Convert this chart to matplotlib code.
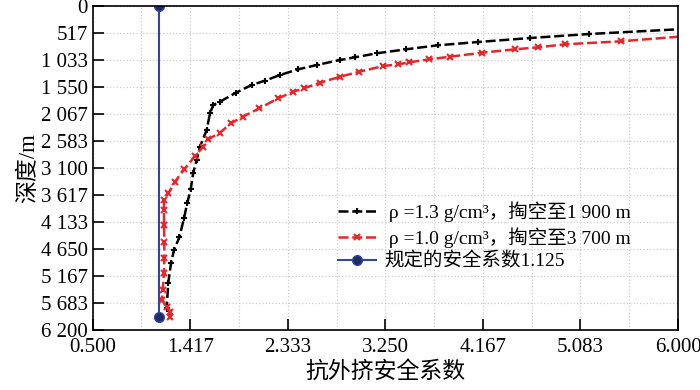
import matplotlib
matplotlib.use("Agg")
import matplotlib.pyplot as plt
import numpy as np

plt.rcParams['font.family'] = ['Liberation Serif', 'Noto Sans CJK SC', 'DejaVu Sans']

# rho = 1.3 g/cm3, hollowed to 1900 m
black_x = [1.22, 1.196, 1.21, 1.236, 1.264, 1.314, 1.358, 1.389, 1.421, 1.445, 1.477,
           1.508, 1.571, 1.602, 1.633, 1.695, 1.847, 1.994, 2.119, 2.260, 2.432,
           2.605, 2.823, 2.965, 3.169, 3.445, 3.742, 4.124, 4.610, 5.167, 6.4]
black_d = [5830, 5774, 5300, 4925, 4671, 4428, 4065, 3767, 3510, 3193, 2950,
           2696, 2376, 2057, 1900, 1836, 1663, 1516, 1434, 1325, 1216,
           1134, 1038, 987, 910, 834, 757, 694, 618, 541, 408]

# rho = 1.0 g/cm3, hollowed to 3700 m
red_x = [1.227, 1.227, 1.198, 1.151, 1.158, 1.170, 1.173, 1.173, 1.170, 1.170, 1.170,
         1.211, 1.273, 1.361, 1.461, 1.534, 1.586, 1.696, 1.800, 1.910, 2.066,
         2.244, 2.385, 2.486, 2.636, 2.824, 3.006, 3.231, 3.372, 3.476, 3.664,
         3.858, 4.156, 4.469, 4.688, 4.939, 5.462, 6.4]
red_d = [5946, 5851, 5761, 5627, 5436, 5117, 4830, 4512, 4193, 3906, 3715,
         3587, 3365, 3128, 2874, 2707, 2554, 2428, 2248, 2122, 1962,
         1771, 1644, 1579, 1472, 1358, 1262, 1153, 1120, 1082, 1025,
         975, 899, 834, 795, 738, 681, 528]

# required safety factor
blue_x = [1.125, 1.125]
blue_d = [0, 5950]

xticks = [0.5 + i * 5.5 / 6 for i in range(7)]
xlabels = ['0.500', '1.417', '2.333', '3.250', '4.167', '5.083', '6.000']
yticks = [i * 6200 / 12 for i in range(13)]
ylabels = ['0', '517', '1 033', '1 550', '2 067', '2 583', '3 100', '3 617',
           '4 133', '4 650', '5 167', '5 683', '6 200']

fig = plt.figure(figsize=(7, 3.9), dpi=100)
ax = fig.add_axes([0.1324, 0.1538, 0.8362, 0.8316])

ax.plot(black_x, black_d, color='black', lw=1.8, ls=(0, (4, 1.5)), marker='+',
        ms=5, mew=1.5, label=' ρ =1.3 g/cm³，掏空至1 900 m')
ax.plot(red_x, red_d, color='#e8262a', lw=1.8, ls=(0, (4, 1.5)), marker='x',
        ms=4, mew=1.5, label=' ρ =1.0 g/cm³，掏空至3 700 m')
ax.plot(blue_x, blue_d, color='#34469a', lw=1.5, marker='o', ms=7,
        mfc='#1f2a66', mec='#34469a', label='规定的安全系数1.125')

ax.set_xlim(0.5, 6.0)
ax.set_ylim(6200, 0)
ax.set_xticks(xticks)
ax.set_xticklabels(xlabels)
ax.set_xticks([0.5 + (i + 0.5) * 5.5 / 6 for i in range(6)], minor=True)
ax.set_yticks(yticks)
ax.set_yticklabels(ylabels)
ax.tick_params(axis='both', which='major', direction='in', length=8, width=1.2,
               labelsize=15, top=False, right=False)
ax.tick_params(axis='x', which='minor', length=0)
ax.tick_params(axis='x', pad=6)
ax.grid(True, which='both', color='#cccccc', ls=':', lw=0.9)
ax.grid(False, axis='y', which='minor')
for s in ax.spines.values():
    s.set_linewidth(1.2)

ax.set_xlabel('抗外挤安全系数', fontsize=16.5, labelpad=3)
ax.set_ylabel('深度/m', fontsize=16.5, labelpad=1)

ax.legend(loc='upper left', bbox_to_anchor=(0.405, 0.42), frameon=False,
          fontsize=14, handlelength=2.0, labelspacing=0.25, handletextpad=0.4,
          borderaxespad=0)

fig.savefig('out.png', dpi=100)
